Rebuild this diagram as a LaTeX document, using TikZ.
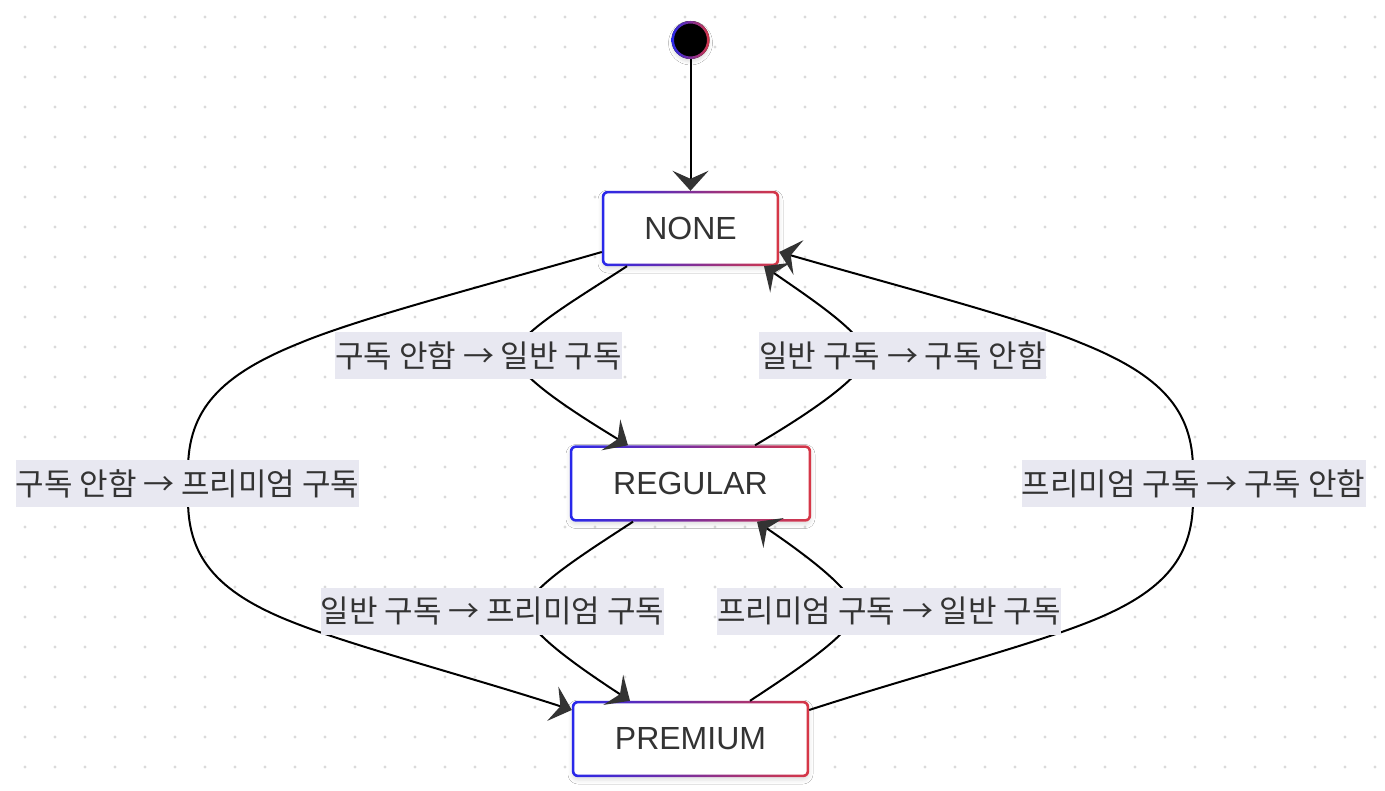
\documentclass[tikz,border=0pt]{standalone}
\usepackage{fontspec}
\setmainfont{Liberation Sans}
\newfontfamily\kr{Noto Sans CJK KR}
\usetikzlibrary{arrows.meta,calc,shadows.blur}
\definecolor{bordA}{RGB}{40,40,235}
\definecolor{bordB}{RGB}{215,55,70}
\definecolor{lblbg}{RGB}{232,232,241}
\definecolor{txtc}{RGB}{51,51,51}
\definecolor{dotc}{RGB}{218,218,218}
\newcommand\gradring[1]{%
  \shade[left color=bordA,right color=bordB,even odd rule]
    [rounded corners=6pt] (#1.south west) rectangle (#1.north east)
    [rounded corners=3.5pt] ([shift={(2.5pt,2.5pt)}]#1.south west) rectangle ([shift={(-2.5pt,-2.5pt)}]#1.north east);}
\begin{document}
\begin{tikzpicture}[x=1pt,y=-1pt,
  stbox/.style={rounded corners=6pt, fill=white, minimum height=76pt, inner sep=0pt,
    font=\fontsize{32}{37}\selectfont, text=txtc,
    blur shadow={shadow xshift=0pt, shadow yshift=-3pt, shadow blur radius=4pt, shadow opacity=12}},
  elabel/.style={fill=lblbg, inner sep=0pt, minimum height=47pt, text=txtc,
    font=\kr\fontsize{31}{36}\selectfont},
  conn/.style={line width=2pt, black, -{Stealth[length=20pt,width=36pt,inset=8pt,color=txtc]}},
]
\useasboundingbox (0,0) rectangle (1385,791);
\fill[white] (0,0) rectangle (1385,791);
\foreach \i in {0,...,45} {\foreach \j in {0,...,25} {\fill[dotc] (25+30*\i,17+30*\j) circle[radius=1.7pt];}}

% states
\node[circle, fill=black, minimum size=38pt, inner sep=0pt,
  blur shadow={shadow xshift=0pt, shadow yshift=-3pt, shadow blur radius=3pt, shadow opacity=12}] (start) at (690.5,40) {};
\shade[left color=bordA,right color=bordB,even odd rule] (start.center) circle[radius=19pt] (start.center) circle[radius=16.5pt];
\node[stbox, minimum width=177pt, minimum height=75pt] (none) at (690.5,228.5) {NONE};
\node[stbox, minimum width=241pt] (regular) at (690.5,483.5) {REGULAR};
\node[stbox, minimum width=237pt] (premium) at (690.5,739) {PREMIUM};
\gradring{none}
\gradring{regular}
\gradring{premium}

% connectors
\draw[conn] (start) -- (none);
\draw[conn] ($(none.south)+(-63.5,0)$) .. controls (575,300) and (515,335) .. (515,355)
  .. controls (515,375) and (575,413) .. ($(regular.north)+(-62.5,0)$);
\draw[conn] ($(regular.north)+(64.5,0)$) .. controls (810,413) and (866,375) .. (866,355)
  .. controls (866,335) and (810,298) .. ($(none.south)+(73.5,0)$);
\draw[conn] ($(none.west)+(0,23.5)$) .. controls (480,287) and (360,318) .. (300,343)
  .. controls (220,375) and (188,410) .. (188,470) -- (188,500)
  .. controls (188,560) and (220,595) .. (300,625)
  .. controls (360,648) and (480,680) .. ($(premium.west)+(0,-29)$);
\draw[conn] ($(premium.east)+(0,-29)$) .. controls (901,680) and (1021,648) .. (1081,625)
  .. controls (1161,595) and (1193,560) .. (1193,500) -- (1193,470)
  .. controls (1193,410) and (1161,375) .. (1081,343)
  .. controls (1021,318) and (901,287) .. ($(none.east)+(0,23.5)$);
\draw[conn] ($(regular.south)+(-57.5,0)$) .. controls (582,555) and (526,590) .. (526,611)
  .. controls (526,631) and (580,668) .. ($(premium.north)+(-60.5,0)$);
\draw[conn] ($(premium.north)+(59.5,0)$) .. controls (800,668) and (855,631) .. (855,611)
  .. controls (855,591) and (803,553) .. ($(regular.south)+(66.5,0)$);

% labels
\node[elabel, minimum width=287pt] (l1) at (478.5,355.5) {구독 안함 → 일반 구독};
\node[elabel, minimum width=287pt] (l2) at (902.5,355.5) {일반 구독 → 구독 안함};
\node[elabel, minimum width=343pt] (l3) at (187.5,484) {구독 안함 → 프리미엄 구독};
\node[elabel, minimum width=343pt] (l4) at (1193.5,484) {프리미엄 구독 → 구독 안함};
\node[elabel, minimum width=343pt] (l5) at (492.5,611) {일반 구독 → 프리미엄 구독};
\node[elabel, minimum width=343pt] (l6) at (889,611) {프리미엄 구독 → 일반 구독};
\end{tikzpicture}
\end{document}
